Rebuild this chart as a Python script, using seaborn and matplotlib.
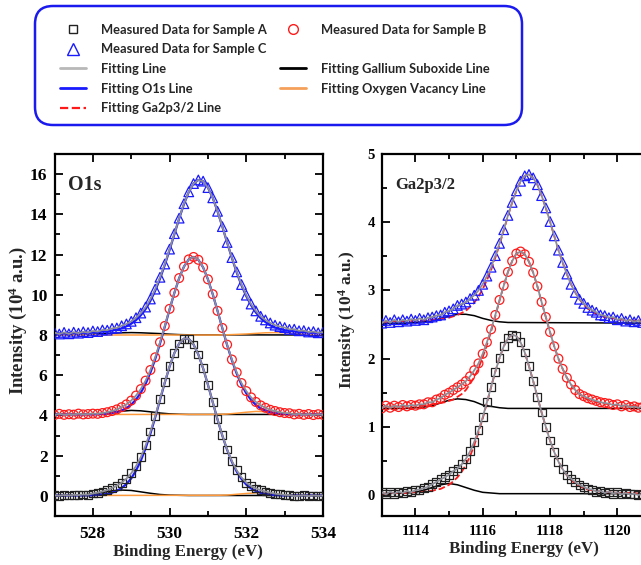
import numpy as np
import pandas as pd
import matplotlib
matplotlib.use("Agg")
import matplotlib.pyplot as plt
import seaborn as sns
from matplotlib.lines import Line2D
from matplotlib.patches import FancyBboxPatch
from matplotlib.ticker import MultipleLocator
from matplotlib.font_manager import FontProperties

# ---------------- data: O1s panel ----------------
O1S_ENERGY = [527.0, 527.125, 527.25, 527.375, 527.5, 527.625, 527.75, 527.875,
              528.0, 528.125, 528.25, 528.375, 528.5, 528.625, 528.75, 528.875,
              529.0, 529.125, 529.25, 529.375, 529.5, 529.625, 529.75, 529.875,
              530.0, 530.125, 530.25, 530.375, 530.5, 530.625, 530.75, 530.875,
              531.0, 531.125, 531.25, 531.375, 531.5, 531.625, 531.75, 531.875,
              532.0, 532.125, 532.25, 532.375, 532.5, 532.625, 532.75, 532.875,
              533.0, 533.125, 533.25, 533.375, 533.5, 533.625, 533.75, 533.875,
              534.0]

O1S_A_DATA = [0.03, 0.01, 0.04, 0.02, 0.05, 0.04, 0.07, 0.06,
              0.12, 0.16, 0.22, 0.29, 0.39, 0.51, 0.66, 0.86,
              1.12, 1.48, 1.93, 2.51, 3.20, 3.97, 4.82, 5.66,
              6.45, 7.10, 7.58, 7.82, 7.81, 7.53, 7.03, 6.34,
              5.53, 4.66, 3.81, 3.01, 2.31, 1.73, 1.27, 0.92,
              0.66, 0.49, 0.37, 0.28, 0.22, 0.16, 0.11, 0.08,
              0.05, 0.04, -0.01, 0.01, 0.03, -0.01, 0.02, 0.00,
              0.02]
O1S_A_MAIN = [0.02, 0.02, 0.02, 0.02, 0.02, 0.02, 0.02, 0.02,
              0.03, 0.05, 0.07, 0.10, 0.16, 0.25, 0.39, 0.59,
              0.87, 1.26, 1.75, 2.37, 3.09, 3.90, 4.77, 5.63,
              6.43, 7.10, 7.58, 7.82, 7.81, 7.53, 7.03, 6.34,
              5.53, 4.66, 3.80, 3.00, 2.29, 1.69, 1.21, 0.84,
              0.56, 0.37, 0.24, 0.15, 0.10, 0.06, 0.04, 0.03,
              0.02, 0.02, 0.02, 0.02, 0.02, 0.02, 0.02, 0.02,
              0.02]

O1S_B_DATA = [4.02, 4.08, 4.03, 4.06, 4.04, 4.09, 4.05, 4.07,
              4.09, 4.08, 4.12, 4.16, 4.22, 4.30, 4.41, 4.55,
              4.74, 4.99, 5.31, 5.73, 6.26, 6.89, 7.64, 8.45,
              9.30, 10.10, 10.83, 11.40, 11.76, 11.88, 11.74, 11.36,
              10.77, 10.03, 9.20, 8.35, 7.52, 6.78, 6.14, 5.61,
              5.21, 4.90, 4.67, 4.50, 4.38, 4.28, 4.22, 4.16,
              4.12, 4.11, 4.05, 4.08, 4.03, 4.07, 4.02, 4.06,
              4.03]
O1S_B_MAIN = [4.05, 4.05, 4.05, 4.05, 4.05, 4.05, 4.05, 4.05,
              4.05, 4.06, 4.07, 4.09, 4.12, 4.17, 4.25, 4.36,
              4.54, 4.79, 5.13, 5.57, 6.13, 6.80, 7.57, 8.41,
              9.27, 10.09, 10.83, 11.40, 11.76, 11.88, 11.74, 11.36,
              10.77, 10.03, 9.20, 8.34, 7.50, 6.74, 6.08, 5.53,
              5.10, 4.77, 4.52, 4.35, 4.24, 4.16, 4.12, 4.09,
              4.07, 4.06, 4.05, 4.05, 4.05, 4.05, 4.05, 4.05,
              4.05]

O1S_C_DATA = [8.12, 8.05, 8.13, 8.06, 8.14, 8.09, 8.16, 8.12,
              8.20, 8.17, 8.25, 8.24, 8.33, 8.35, 8.46, 8.55,
              8.68, 8.86, 9.09, 9.39, 9.79, 10.28, 10.87, 11.53,
              12.27, 13.04, 13.81, 14.53, 15.12, 15.53, 15.71, 15.65,
              15.33, 14.82, 14.15, 13.39, 12.60, 11.85, 11.14, 10.51,
              9.98, 9.54, 9.20, 8.93, 8.75, 8.60, 8.49, 8.42,
              8.37, 8.28, 8.29, 8.21, 8.22, 8.15, 8.17, 8.11,
              8.14]
O1S_C_MAIN = [8.07, 8.08, 8.08, 8.09, 8.10, 8.10, 8.11, 8.12,
              8.13, 8.15, 8.17, 8.19, 8.22, 8.27, 8.33, 8.43,
              8.56, 8.74, 8.98, 9.29, 9.70, 10.20, 10.80, 11.48,
              12.23, 13.01, 13.79, 14.51, 15.11, 15.53, 15.71, 15.65,
              15.33, 14.82, 14.15, 13.39, 12.60, 11.83, 11.11, 10.47,
              9.93, 9.48, 9.12, 8.84, 8.64, 8.48, 8.37, 8.30,
              8.24, 8.20, 8.18, 8.15, 8.14, 8.13, 8.11, 8.11,
              8.10]

O1S_SUB_ENERGY = [527.0, 527.5, 527.75, 528.0, 528.25, 528.5, 528.75, 529.0,
                  529.25, 529.5, 529.75, 530.0, 530.25, 530.5, 534.0]
O1S_A_SUB = [0.02, 0.03, 0.05, 0.10, 0.17, 0.25, 0.29, 0.27, 0.20, 0.13, 0.07, 0.04, 0.03, 0.02, 0.02]
O1S_B_SUB = [4.05, 4.05, 4.05, 4.07, 4.10, 4.15, 4.21, 4.25, 4.23, 4.18, 4.12, 4.08, 4.06, 4.05, 4.05]
O1S_C_SUB = [8.00, 8.01, 8.02, 8.04, 8.07, 8.09, 8.11, 8.12, 8.11, 8.09, 8.07, 8.04, 8.02, 8.01, 8.00]

O1S_VAC_ENERGY = [527.0, 531.25, 531.5, 531.75, 532.0, 532.25, 532.5, 532.75,
                  533.0, 533.25, 533.5, 533.75, 534.0]
O1S_A_VAC = [0.02, 0.03, 0.04, 0.08, 0.12, 0.15, 0.14, 0.09, 0.05, 0.03, 0.02, 0.02, 0.02]
O1S_B_VAC = [4.05, 4.05, 4.07, 4.11, 4.16, 4.20, 4.19, 4.15, 4.10, 4.07, 4.05, 4.05, 4.05]
O1S_C_VAC = [8.00, 8.00, 8.01, 8.03, 8.05, 8.08, 8.11, 8.12, 8.11, 8.09, 8.06, 8.03, 8.02]

# ---------------- data: Ga2p3/2 panel ----------------
GA_ENERGY = [1113.0, 1113.125, 1113.25, 1113.375, 1113.5, 1113.625, 1113.75, 1113.875,
             1114.0, 1114.125, 1114.25, 1114.375, 1114.5, 1114.625, 1114.75, 1114.875,
             1115.0, 1115.125, 1115.25, 1115.375, 1115.5, 1115.625, 1115.75, 1115.875,
             1116.0, 1116.125, 1116.25, 1116.375, 1116.5, 1116.625, 1116.75, 1116.875,
             1117.0, 1117.125, 1117.25, 1117.375, 1117.5, 1117.625, 1117.75, 1117.875,
             1118.0, 1118.125, 1118.25, 1118.375, 1118.5, 1118.625, 1118.75, 1118.875,
             1119.0, 1119.125, 1119.25, 1119.375, 1119.5, 1119.625, 1119.75, 1119.875,
             1120.0, 1120.125, 1120.25, 1120.375, 1120.5, 1120.625, 1120.75, 1120.875,
             1121.0]

GA_A_DATA = [0.04, 0.01, 0.05, 0.02, 0.05, 0.03, 0.06, 0.04,
             0.07, 0.08, 0.10, 0.12, 0.16, 0.19, 0.23, 0.26,
             0.30, 0.35, 0.39, 0.45, 0.53, 0.64, 0.78, 0.95,
             1.14, 1.36, 1.59, 1.81, 2.01, 2.18, 2.30, 2.35,
             2.33, 2.24, 2.09, 1.89, 1.67, 1.44, 1.21, 1.00,
             0.80, 0.63, 0.49, 0.38, 0.29, 0.24, 0.19, 0.15,
             0.12, 0.09, 0.08, 0.05, 0.06, 0.03, 0.05, 0.02,
             0.04, 0.01, 0.03, 0.01, 0.02, 0.00, 0.02, 0.00,
             0.01]
GA_A_MAIN = [0.02, 0.02, 0.03, 0.03, 0.03, 0.03, 0.03, 0.04,
             0.04, 0.04, 0.05, 0.06, 0.06, 0.08, 0.09, 0.12,
             0.15, 0.20, 0.26, 0.34, 0.44, 0.57, 0.73, 0.92,
             1.12, 1.35, 1.58, 1.81, 2.01, 2.18, 2.30, 2.35,
             2.33, 2.24, 2.09, 1.89, 1.67, 1.44, 1.21, 1.00,
             0.80, 0.63, 0.49, 0.38, 0.29, 0.22, 0.17, 0.13,
             0.10, 0.08, 0.07, 0.06, 0.05, 0.04, 0.04, 0.04,
             0.03, 0.03, 0.03, 0.03, 0.03, 0.02, 0.02, 0.02,
             0.02]

GA_B_DATA = [1.27, 1.31, 1.28, 1.31, 1.29, 1.32, 1.30, 1.32,
             1.31, 1.33, 1.33, 1.36, 1.36, 1.40, 1.42, 1.47,
             1.50, 1.54, 1.58, 1.62, 1.67, 1.74, 1.83, 1.93,
             2.07, 2.24, 2.43, 2.64, 2.86, 3.07, 3.27, 3.43,
             3.54, 3.57, 3.53, 3.42, 3.26, 3.06, 2.83, 2.61,
             2.39, 2.18, 2.00, 1.85, 1.72, 1.62, 1.54, 1.48,
             1.45, 1.42, 1.40, 1.38, 1.36, 1.35, 1.34, 1.32,
             1.33, 1.30, 1.32, 1.29, 1.30, 1.28, 1.29, 1.27,
             1.28]
GA_B_MAIN = [1.29, 1.30, 1.30, 1.30, 1.30, 1.30, 1.31, 1.31,
             1.31, 1.31, 1.32, 1.32, 1.33, 1.34, 1.35, 1.36,
             1.38, 1.40, 1.44, 1.48, 1.54, 1.63, 1.73, 1.86,
             2.02, 2.20, 2.40, 2.62, 2.85, 3.07, 3.27, 3.43,
             3.54, 3.57, 3.53, 3.42, 3.26, 3.06, 2.83, 2.61,
             2.39, 2.18, 2.00, 1.85, 1.72, 1.62, 1.54, 1.48,
             1.43, 1.40, 1.38, 1.36, 1.35, 1.34, 1.33, 1.32,
             1.32, 1.31, 1.31, 1.31, 1.31, 1.30, 1.30, 1.30,
             1.30]

GA_C_DATA = [2.52, 2.56, 2.53, 2.57, 2.54, 2.57, 2.55, 2.58,
             2.56, 2.59, 2.57, 2.60, 2.61, 2.63, 2.64, 2.68,
             2.70, 2.73, 2.78, 2.80, 2.83, 2.88, 2.93, 3.00,
             3.09, 3.21, 3.34, 3.51, 3.69, 3.89, 4.10, 4.29,
             4.46, 4.60, 4.68, 4.70, 4.65, 4.55, 4.39, 4.21,
             4.01, 3.80, 3.59, 3.41, 3.24, 3.09, 2.97, 2.87,
             2.81, 2.75, 2.71, 2.68, 2.64, 2.63, 2.60, 2.61,
             2.57, 2.59, 2.55, 2.57, 2.54, 2.56, 2.53, 2.55,
             2.52]
GA_C_MAIN = [2.54, 2.54, 2.55, 2.55, 2.55, 2.55, 2.55, 2.55,
             2.56, 2.56, 2.56, 2.57, 2.57, 2.58, 2.58, 2.59,
             2.60, 2.62, 2.64, 2.67, 2.70, 2.76, 2.82, 2.91,
             3.02, 3.15, 3.30, 3.48, 3.67, 3.88, 4.09, 4.29,
             4.46, 4.60, 4.68, 4.70, 4.65, 4.55, 4.39, 4.21,
             4.01, 3.80, 3.59, 3.41, 3.24, 3.09, 2.97, 2.87,
             2.79, 2.73, 2.69, 2.65, 2.63, 2.61, 2.60, 2.59,
             2.58, 2.57, 2.57, 2.56, 2.56, 2.56, 2.55, 2.55,
             2.55]

GA_SUB_ENERGY = [1113.0, 1113.75, 1114.0, 1114.25, 1114.5, 1114.75, 1115.0, 1115.25,
                 1115.5, 1115.75, 1116.0, 1116.25, 1116.5, 1116.75, 1121.0]
GA_A_SUB = [0.02, 0.03, 0.04, 0.07, 0.11, 0.15, 0.17, 0.15, 0.11, 0.07, 0.04, 0.03, 0.02, 0.02, 0.02]
GA_B_SUB = [1.27, 1.27, 1.28, 1.29, 1.31, 1.35, 1.39, 1.41, 1.40, 1.37, 1.32, 1.30, 1.28, 1.27, 1.27]
GA_C_SUB = [2.52, 2.52, 2.53, 2.54, 2.55, 2.59, 2.62, 2.65, 2.65, 2.63, 2.59, 2.56, 2.54, 2.53, 2.52]

LEGEND_LABELS = ["Measured Data for Sample A", "Measured Data for Sample C", "Fitting Line",
                 "Fitting O1s Line", "Fitting Ga2p3/2 Line", "Measured Data for Sample B", "",
                 "Fitting Gallium Suboxide Line", "Fitting Oxygen Vacancy Line", ""]

# ---------------- style ----------------
sns.set_theme(style="ticks")
plt.rcParams['font.family'] = ['Liberation Serif', 'DejaVu Serif']
plt.rcParams['font.weight'] = 'bold'
plt.rcParams['mathtext.fontset'] = 'custom'
plt.rcParams['mathtext.rm'] = 'Liberation Serif:bold'
plt.rcParams['mathtext.it'] = 'Liberation Serif:bold'
plt.rcParams['mathtext.bf'] = 'Liberation Serif:bold'

BLACK = '#222222'
RED = '#ff1a1a'
BLUE = '#1a1aff'
FITGREY = '#8e8e98'
ORANGE = '#ff9a3c'

W, H = 641, 565
fig = plt.figure(figsize=(W / 100, H / 100), dpi=100)
ax1 = fig.add_axes([54.5 / W, 1 - 516 / H, (323 - 54.5) / W, (516 - 154) / H])
ax2 = fig.add_axes([381.7 / W, 1 - 515.5 / H, (651 - 381.7) / W, (515.5 - 154) / H])


def line(ax, x, y, color, lw, ls='-', z=2):
    sns.lineplot(x=x, y=y, ax=ax, color=color, linewidth=lw, linestyle=ls,
                 estimator=None, sort=False, legend=False, zorder=z)


def points(ax, x, y, marker, color, s):
    sns.scatterplot(x=x, y=y, ax=ax, marker=marker, s=s, facecolor='none',
                    edgecolor=color, linewidth=0.9, legend=False, zorder=4)


# O1s panel
for sub, vac in [(O1S_A_SUB, O1S_A_VAC), (O1S_B_SUB, O1S_B_VAC), (O1S_C_SUB, O1S_C_VAC)]:
    line(ax1, O1S_SUB_ENERGY, sub, 'black', 1.1, z=2)
    line(ax1, O1S_VAC_ENERGY, vac, ORANGE, 1.1, z=2.1)
for main in [O1S_A_MAIN, O1S_B_MAIN, O1S_C_MAIN]:
    line(ax1, O1S_ENERGY, main, BLUE, 1.6, z=3)
points(ax1, O1S_ENERGY, O1S_A_DATA, 's', BLACK, 32)
points(ax1, O1S_ENERGY, O1S_B_DATA, 'o', RED, 40)
points(ax1, O1S_ENERGY, O1S_C_DATA, '^', BLUE, 48)
for d in [O1S_A_DATA, O1S_B_DATA, O1S_C_DATA]:
    line(ax1, O1S_ENERGY, d, FITGREY, 1.3, z=5)

# Ga panel
for sub in [GA_A_SUB, GA_B_SUB, GA_C_SUB]:
    line(ax2, GA_SUB_ENERGY, sub, 'black', 1.1, z=2)
for main in [GA_A_MAIN, GA_B_MAIN, GA_C_MAIN]:
    line(ax2, GA_ENERGY, main, RED, 1.3, ls='--', z=3)
points(ax2, GA_ENERGY, GA_A_DATA, 's', BLACK, 32)
points(ax2, GA_ENERGY, GA_B_DATA, 'o', RED, 40)
points(ax2, GA_ENERGY, GA_C_DATA, '^', BLUE, 48)
for d in [GA_A_DATA, GA_B_DATA, GA_C_DATA]:
    line(ax2, GA_ENERGY, d, FITGREY, 1.3, z=5)

for ax, xl, yl, xmaj, ymaj, ymin, lab, lfs, tfs, ylfs in [
        (ax1, (527, 534), (-1, 17), 2, 2, 1, 'O1s', 14.5, 12.5, 13.5),
        (ax2, (1113, 1121), (-0.3, 5.0), 2, 1, 0.5, 'Ga2p3/2', 12, 10.5, 12.5)]:
    ax.set_xlim(*xl)
    ax.set_ylim(*yl)
    ax.xaxis.set_major_locator(MultipleLocator(xmaj))
    ax.xaxis.set_minor_locator(MultipleLocator(1))
    ax.yaxis.set_major_locator(MultipleLocator(ymaj))
    ax.yaxis.set_minor_locator(MultipleLocator(ymin))
    ax.tick_params(which='both', direction='in', top=True, right=True, width=1.3,
                   colors='black', labelsize=tfs)
    ax.tick_params(which='major', length=6)
    ax.tick_params(which='minor', length=3.5)
    ax.tick_params(axis='x', pad=7)
    ax.tick_params(axis='y', pad=5)
    for sp in ax.spines.values():
        sp.set_linewidth(1.6)
        sp.set_color('black')
    ax.set_xlabel('Binding Energy (eV)', fontsize=12.2, fontweight='bold')
    ax.set_ylabel('Intensity (10$^{4}$ a.u.)', fontsize=ylfs, fontweight='bold')
    ax.text(0.05, 0.915, lab, transform=ax.transAxes, fontsize=lfs, fontweight='bold',
            va='center', ha='left')

ax1.yaxis.set_label_coords(-0.095, 0.541)
ax2.yaxis.set_label_coords(-0.088, 0.541)
ax1.xaxis.set_label_coords(0.497, -0.078)
ax2.xaxis.set_label_coords(0.528, -0.07)

# legend
handles = [
    Line2D([], [], ls='none', marker='s', mfc='none', mec=BLACK, ms=6, mew=1),
    Line2D([], [], ls='none', marker='^', mfc='none', mec=BLUE, ms=8, mew=1),
    Line2D([], [], color='#b8b8b8', lw=2),
    Line2D([], [], color=BLUE, lw=2),
    Line2D([], [], color=RED, lw=1.6, ls='--'),
    Line2D([], [], ls='none', marker='o', mfc='none', mec=RED, ms=7, mew=1),
    Line2D([], [], ls='none'),
    Line2D([], [], color='black', lw=2),
    Line2D([], [], color='#f5a05a', lw=2),
    Line2D([], [], ls='none'),
]
fig.legend(handles, LEGEND_LABELS, ncol=2, loc='upper left',
           bbox_to_anchor=(60 / W, 1 - 23.5 / H), frameon=False,
           prop=FontProperties(family='Lato', weight='bold', size=9.3),
           handlelength=2.0, handletextpad=1.15, columnspacing=1.05,
           labelspacing=0.6, borderpad=0, borderaxespad=0)
box = FancyBboxPatch((0.35, (H - 125) / 100), 4.87, 1.19,
                     boxstyle='round,pad=0,rounding_size=0.18',
                     transform=fig.dpi_scale_trans, facecolor='none',
                     edgecolor='#1a1aee', linewidth=1.8)
fig.add_artist(box)

fig.savefig('out.png', dpi=100)
